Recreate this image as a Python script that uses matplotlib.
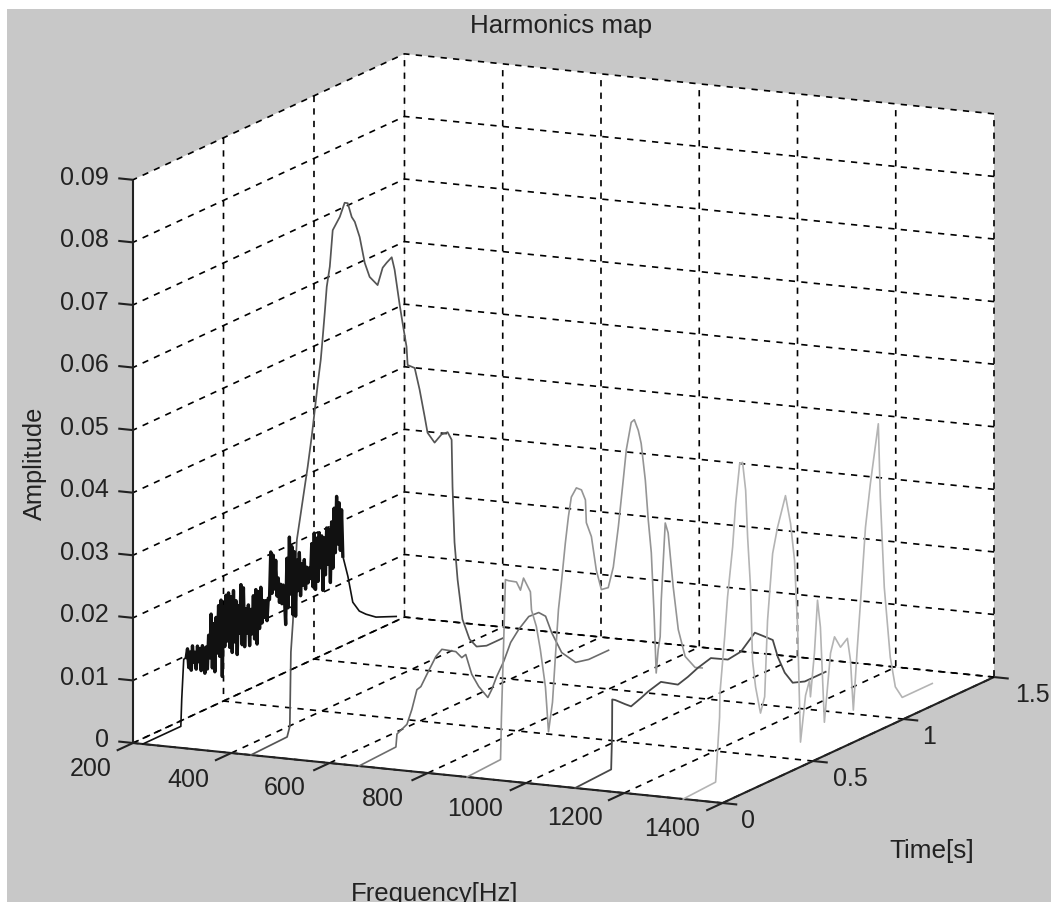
import numpy as np
import matplotlib
matplotlib.use("Agg")
import matplotlib.pyplot as plt
from matplotlib.patches import Rectangle
from mpl_toolkits.mplot3d import proj3d

# Data
harmonics = [220, 440, 660, 880, 1100, 1320]

noise_a = [
    .0106, .0119, .0088, .0112, .0082, .0120, .0093, .0108,
    .0080, .0116, .0090, .0110, .0074, .0113, .0085, .0067,
    .0108, .0072, .0125, .0088, .0157, .0070, .0140, .0062,
    .0148, .0090, .0165, .0083, .0172, .0049, .0160,
    .0095, .0176, .0102, .0178, .0090, .0170, .0080, .0178,
    .0095, .0160, .0073, .0150, .0105, .0182, .0085, .0175,
    .0080, .0140, .0100, .0144, .0078, .0135, .0095,
    .0155, .0085, .0163, .0075, .0158, .0098, .0163,
    .0105, .0140, .0112, .0138, .0105, .0140,
    .0137, .0212, .0145, .0205, .0150, .0195, .0137,
    .0165, .0125, .0153, .0121, .0150, .0130,
    .0085, .0190, .0110, .0222, .0130, .0205, .0095,
    .0195, .0091, .0180, .0130, .0190, .0120, .0170,
    .0135, .0175, .0127, .0161, .0135, .0158,
    .0140, .0195, .0125, .0210, .0119, .0200,
    .0130, .0207, .0150, .0200, .0112, .0195, .0135,
    .0209, .0150, .0205, .0119, .0215, .0140, .0235, .0163,
    .0252, .0175, .0240, .0163, .0227, .0152]
noise_t = np.linspace(0.24, 1.105, len(noise_a))

t1 = [0, .21, .215, .226] + list(noise_t) + [1.133, 1.16, 1.196, 1.233, 1.288, 1.40]
a1 = [0, 0, .0043, .0105] + noise_a + [.0116, .0071, .0052, .0042, .0030, .0016]

t2 = [0, .20, .215, .221, .232, .254, .314, .336, .353, .370, .386, .397, .408, .419, .436,
      .452, .491, .518, .535, .557, .574, .601, .629, .656, .700, .728, .750, .778, .794,
      .822, .838, .860, .866, .905, .932, .960, .976, 1.015, 1.053, 1.087, 1.109, 1.114,
      1.125, 1.142, 1.169, 1.208, 1.247, 1.302, 1.390]
a2 = [0, .0002, .0017, .0135, .0181, .0310, .0419, .0464, .0504, .0545, .0580, .0615, .0652,
      .0692, .0722, .0778, .0794, .0813, .0810, .0785, .0775, .0747, .0702, .0676, .0657,
      .0681, .0686, .0691, .0669, .0609, .0578, .0537, .0507, .0497, .0459, .0412, .0384,
      .0363, .0371, .0370, .0355, .0279, .0189, .0127, .0060, .0023, .0006, 0, 0]

t3 = [0, .204, .210, .265, .292, .32, .342, .375, .425, .458, .535, .568, .590, .623, .662,
      .712, .734, .761, .800, .838, .883, .938, .993, 1.031, 1.065, 1.120, 1.197, 1.269, 1.379]
a3 = [0, .0003, .0023, .0031, .0051, .0079, .0081, .0096, .0118, .0125, .0111, .0097, .0099,
      .0063, .0038, .0014, .0024, .0041, .0060, .0085, .0100, .0113, .0112, .0101, .0070,
      .0031, .0005, 0, 0]

t4 = [0, .185, .190, .201, .212, .229, .273, .295, .312, .350, .356, .383, .405, .433, .450,
      .472, .488, .505, .521, .543, .560, .576, .604, .632, .654, .659, .687, .714, .742,
      .780, .808, .836, .863, .880, .907, .924, .946, .962, .985, 1.001, 1.018, 1.034,
      1.045, 1.056, 1.067, 1.073, 1.095, 1.111, 1.139, 1.167, 1.205, 1.260, 1.299]
a4 = [0, .0003, .0071, .0176, .0287, .0283, .0275, .0259, .0276, .0249, .0219, .0189, .0149,
      .0086, .0012, .0056, .0127, .0200, .0240, .0301, .0341, .0370, .0381, .0374, .0355,
      .0318, .0292, .0235, .0200, .0198, .0227, .0288, .0359, .0405, .0445, .0447, .0427,
      .0404, .0342, .0277, .0222, .0117, .0026, .0062, .0081, .0139, .0259, .0241, .0151,
      .0079, .0031, .0006, 0]

t5 = [0, .199, .204, .205, .221, .276, .309, .364, .403, .474, .568, .623, .678, .750, .844,
      .916, .993, 1.037, 1.092, 1.120, 1.158, 1.202, 1.269, 1.384]
a5 = [0, .0003, .0058, .0114, .0111, .0097, .0089, .0095, .0100, .0106, .0089, .0094, .0101,
      .0107, .0092, .0095, .0115, .0104, .0090, .0059, .0029, .0007, 0, 0]

t6 = [0, .179, .201, .203, .229, .245, .273, .290, .312, .328, .345, .356, .372, .383, .400,
      .427, .450, .466, .494, .521, .565, .593, .615, .632, .648, .676, .698, .703, .725,
      .742, .758, .780, .814, .836, .869, .907, .924, .940, .962, .979, 1.007, 1.034, 1.078,
      1.089, 1.111, 1.144, 1.172, 1.210, 1.376]
a6 = [0, .0003, .0104, .0142, .0228, .0290, .0366, .0434, .0494, .0494, .0447, .0370, .0288,
      .0170, .0125, .0080, .0103, .0223, .0326, .0364, .0409, .0361, .0299, .0190, .0004,
      .0075, .0096, .0069, .0136, .0218, .0173, .0018, .0124, .0147, .0126, .0135, .0098,
      .0016, .0113, .0181, .0299, .0365, .0455, .0336, .0189, .0073, .0022, 0, 0]

times = [t1, t2, t3, t4, t5, t6]
amps = [a1, a2, a3, a4, a5, a6]
colors = ["#111111", "#555555", "#6c6c6c", "#959595", "#484848", "#b4b4b4"]
widths = [1.2, 1.25, 1.2, 1.2, 1.3, 1.2]

freq_ticks = [200, 400, 600, 800, 1000, 1200, 1400]
time_ticks = [0, 0.5, 1, 1.5]
amp_ticks = [0, 0.01, 0.02, 0.03, 0.04, 0.05, 0.06, 0.07, 0.08, 0.09]

W, H = 1051, 903
plt.rcParams['font.family'] = ['Liberation Sans', 'DejaVu Sans']
plt.rcParams['grid.color'] = 'black'
plt.rcParams['grid.linewidth'] = 1.2
plt.rcParams['grid.linestyle'] = (0, (4.5, 4.5))
plt.rcParams['lines.scale_dashes'] = False
INK = '#222222'


def px_text(x, y, s, size=18, **kw):
    # text placed in image pixels, y counted from the top
    fig.text(x / W, 1 - y / H, s, fontsize=size, color=INK, **kw)


fig = plt.figure(figsize=(W / 100, H / 100), dpi=100, facecolor='white')
fig.add_artist(Rectangle((7 / W, 0), 1 - 7 / W, 1 - 10 / H, transform=fig.transFigure,
                         facecolor='#c8c8c8', edgecolor='none', zorder=-5))

ax = fig.add_subplot(projection='3d', proj_type='ortho', computed_zorder=False)
ax.patch.set_visible(False)
ax.view_init(elev=12.55, azim=-64.9)
ax.set_box_aspect((651, 640, 577))
ax.set_xlim(200, 1400)
ax.set_ylim(0, 1.5)
ax.set_zlim(0, 0.09)
ax.set_xticks(freq_ticks)
# last time tick left out: its wall line would double the corner line and look solid
ax.set_yticks(time_ticks[:-1])
ax.set_zticks(amp_ticks)
ax.set_xticklabels([])
ax.set_yticklabels([])
ax.set_zticklabels([])
for axis in (ax.xaxis, ax.yaxis, ax.zaxis):
    axis.set_pane_color('white')
    axis.pane.set_edgecolor('none')
    axis.line.set_color((0, 0, 0, 0))
    axis._axinfo['tick']['inward_factor'] = 0
    axis._axinfo['tick']['outward_factor'] = 0
ax.grid(True)

# Axis lines and tick marks
solid = dict(color=INK, lw=1.5, solid_capstyle='butt')
ax.plot([200, 1400], [0, 0], [0, 0], **solid)
ax.plot([1400, 1400], [0, 1.5], [0, 0], **solid)
ax.plot([200, 200], [0, 0], [0, 0.09], **solid)
for f in freq_ticks:
    ax.plot([f, f], [0, -0.09], [0, 0], **solid)
for t in time_ticks:
    ax.plot([1400, 1430], [t, t], [0, 0], **solid)
for z in amp_ticks:
    ax.plot([200, 170], [0, 0], [z, z], **solid)
ax.plot([200, 1400], [1.5, 1.5], [0, 0], color='black', lw=1.2, ls=(0, (4.5, 4.5)))

# Harmonic traces
for f, t, a, c, lw in zip(harmonics, times, amps, colors, widths):
    ax.plot([f] * len(t), t, a, color=c, lw=lw)
# the noisy part of the first trace reads as a solid black band
ax.plot([harmonics[0]] * len(noise_t), noise_t, noise_a, color="#111111", lw=2.4)


# Fit the axes so the box corners land where the reference has them
def corner_px(f, t, z):
    x, y, _ = proj3d.proj_transform(f, t, z, ax.get_proj())
    dx, dy = ax.transData.transform((x, y))
    return dx, H - dy


side, left, bottom = 900.0, 0.0, 0.0
ax.set_position([left / W, bottom / H, side / W, side / H])
fig.canvas.draw()
ax0 = corner_px(200, 0, 0)
cx = corner_px(1400, 1.5, 0)
side *= 861.0 / (cx[0] - ax0[0])
ax.set_position([left / W, bottom / H, side / W, side / H])
fig.canvas.draw()
ax0 = corner_px(200, 0, 0)
left += 133 - ax0[0]
bottom += ax0[1] - 744
ax.set_position([left / W, bottom / H, side / W, side / H])

# Text
px_text(561, 26, "Harmonics map", size=18.7, ha='center', va='center')
px_text(35, 463, "Amplitude", size=18.3, ha='center', va='center', rotation=90)
px_text(435, 901, "Frequency[Hz]", size=18.5, ha='center', va='baseline')
px_text(932, 858, "Time[s]", size=18.8, ha='center', va='baseline')

freq_pos = [(91, 769), (188, 780), (285, 788), (383, 799), (475, 809), (575, 818), (672, 829)]
for f, (x, y) in zip(freq_ticks, freq_pos):
    px_text(x, y, str(f), ha='center', va='center')
time_pos = [(748, 821), (850, 779), (929, 737), (1032, 695)]
for t, (x, y) in zip(time_ticks, time_pos):
    px_text(x, y, f"{t:g}", ha='center', va='center')
for z in amp_ticks:
    y = 740 - z / 0.09 * (740 - 178)
    px_text(109, y, f"{z:g}", ha='right', va='center')

fig.savefig("out.png", dpi=100, facecolor=fig.get_facecolor())
